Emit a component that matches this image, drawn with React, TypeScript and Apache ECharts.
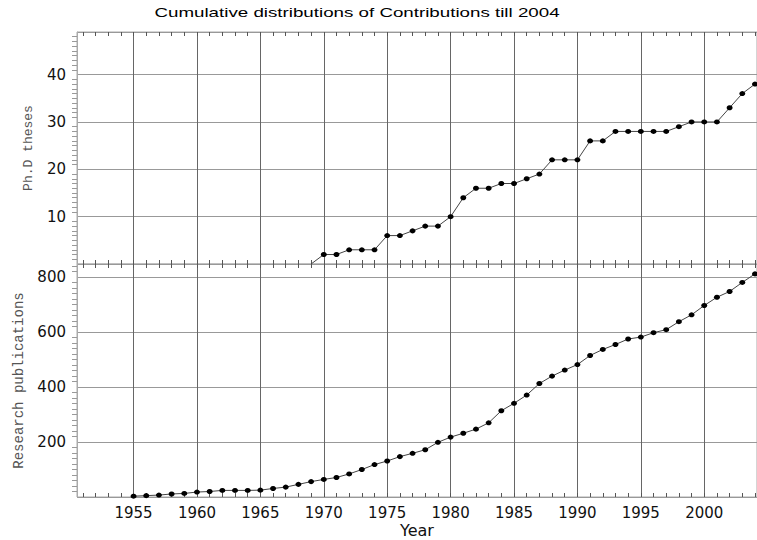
import React, { useEffect, useRef } from "react";
import * as echarts from "echarts";

// ---- Data ----
const thesisYears = [1969, 1970, 1971, 1972, 1973, 1974, 1975, 1976, 1977, 1978, 1979, 1980, 1981, 1982, 1983, 1984, 1985, 1986, 1987, 1988, 1989, 1990, 1991, 1992, 1993, 1994, 1995, 1996, 1997, 1998, 1999, 2000, 2001, 2002, 2003, 2004];
const thesisValues = [0, 2, 2, 3, 3, 3, 6, 6, 7, 8, 8, 10, 14, 16, 16, 17, 17, 18, 19, 22, 22, 22, 26, 26, 28, 28, 28, 28, 28, 29, 30, 30, 30, 33, 36, 38];

const pubYears = [1955, 1956, 1957, 1958, 1959, 1960, 1961, 1962, 1963, 1964, 1965, 1966, 1967, 1968, 1969, 1970, 1971, 1972, 1973, 1974, 1975, 1976, 1977, 1978, 1979, 1980, 1981, 1982, 1983, 1984, 1985, 1986, 1987, 1988, 1989, 1990, 1991, 1992, 1993, 1994, 1995, 1996, 1997, 1998, 1999, 2000, 2001, 2002, 2003, 2004];
const pubValues = [3, 5, 7, 11, 13, 18, 20, 24, 24, 24, 25, 31, 36, 46, 56, 64, 71, 84, 100, 118, 131, 147, 159, 172, 199, 218, 232, 247, 270, 314, 341, 371, 413, 440, 462, 482, 515, 537, 555, 575, 582, 598, 609, 638, 663, 697, 727, 748, 781, 812];

const yearTicks = [1951, 1952, 1953, 1954, 1955, 1956, 1957, 1958, 1959, 1960, 1961, 1962, 1963, 1964, 1965, 1966, 1967, 1968, 1969, 1970, 1971, 1972, 1973, 1974, 1975, 1976, 1977, 1978, 1979, 1980, 1981, 1982, 1983, 1984, 1985, 1986, 1987, 1988, 1989, 1990, 1991, 1992, 1993, 1994, 1995, 1996, 1997, 1998, 1999, 2000, 2001, 2002, 2003, 2004];
const yearLabels = [1955, 1960, 1965, 1970, 1975, 1980, 1985, 1990, 1995, 2000];

const titleText = "Cumulative distributions of Contributions till 2004";
const xName = "Year";
const topName = "Ph.D theses";
const bottomName = "Research publications";

const X_MIN = 1950.54;
const X_MAX = 2004.16;

export default function App() {
  const ref = useRef<HTMLDivElement>(null);

  useEffect(() => {
    if (!ref.current) return;
    const chart = echarts.init(ref.current, undefined, { renderer: "svg" });

    const tickColor = "#555";
    const frameColor = "#aaa";
    const labelFont = { fontFamily: "DejaVu Sans", fontSize: 15, color: "#111" };

    const tickAxis = (grid: number, pos: "top" | "bottom", labels: boolean) => ({
      type: "value",
      gridIndex: grid,
      position: pos,
      min: X_MIN,
      max: X_MAX,
      axisLine: { show: false },
      axisTick: {
        show: true,
        inside: true,
        length: 4,
        customValues: yearTicks,
        lineStyle: { color: tickColor, width: 1 },
      },
      axisLabel: labels
        ? { show: true, customValues: yearLabels, margin: 8, ...labelFont, formatter: (v: number) => String(Math.round(v)) }
        : { show: false },
      splitLine: { show: false },
      ...(labels
        ? {
            name: xName,
            nameLocation: "middle",
            nameGap: 25,
            nameTextStyle: { fontFamily: "DejaVu Sans", fontSize: 16, color: "#111" },
          }
        : {}),
    });

    const gridAxis = (grid: number) => ({
      type: "value",
      gridIndex: grid,
      position: "bottom",
      min: X_MIN,
      max: X_MAX,
      axisLine: { show: false },
      axisTick: { show: false, customValues: yearLabels },
      axisLabel: { show: false },
      splitLine: { show: true, lineStyle: { color: "#666", width: 1 } },
    });

    const yAxis = (grid: number, max: number, interval: number, name: string, gap: number, nameSize: number) => ({
      type: "value",
      gridIndex: grid,
      min: 0,
      max,
      interval,
      axisLine: { show: true, lineStyle: { color: frameColor } },
      axisTick: { show: false },
      minorTick: { show: true, splitNumber: 10, length: 5, lineStyle: { color: "#999" } },
      axisLabel: {
        margin: 11,
        showMaxLabel: false,
        showMinLabel: false,
        ...labelFont,
        formatter: (v: number) => (v !== 0 && v % interval === 0 ? String(v) : ""),
      },
      splitLine: { show: true, lineStyle: { color: "#999", width: 1 } },
      name,
      nameLocation: "middle",
      nameGap: gap,
      nameTextStyle: { fontFamily: "Liberation Mono", fontSize: nameSize, color: "#555" },
    });

    const thesisData = thesisYears.map((y, i) =>
      thesisValues[i] === 0 ? { value: [y, thesisValues[i]], symbol: "none" } : { value: [y, thesisValues[i]] }
    );
    const pubData = pubYears.map((y, i) => [y, pubValues[i]]);

    const lineSeries = (data: any[], xi: number, yi: number) => ({
      type: "line",
      xAxisIndex: xi,
      yAxisIndex: yi,
      data,
      symbol: "circle",
      symbolSize: [6, 5],
      clip: true,
      itemStyle: { color: "#000" },
      lineStyle: { color: "#444", width: 1 },
      emphasis: { disabled: true },
    });

    chart.setOption({
      animation: false,
      backgroundColor: "#fff",
      graphic: [
        {
          type: "text",
          x: 357,
          y: 13,
          scaleX: 1.5,
          style: {
            text: titleText,
            font: '12.5px "Liberation Sans"',
            textAlign: "center",
            textVerticalAlign: "middle",
            fill: "#000",
          },
        },
      ],
      grid: [
        { left: 77, top: 32, width: 684, height: 232, show: true, borderColor: frameColor, borderWidth: 1, containLabel: false },
        { left: 77, top: 264, width: 684, height: 233, show: true, borderColor: frameColor, borderWidth: 1, containLabel: false },
      ],
      xAxis: [
        tickAxis(0, "bottom", false),
        tickAxis(0, "top", false),
        gridAxis(0),
        tickAxis(1, "bottom", true),
        tickAxis(1, "top", false),
        gridAxis(1),
      ],
      yAxis: [yAxis(0, 49, 10, topName, 42, 13), yAxis(1, 848, 200, bottomName, 50, 14)],
      series: [lineSeries(thesisData, 0, 0), lineSeries(pubData, 3, 1)],
    });

    return () => chart.dispose();
  }, []);

  return (
    <div
      ref={ref}
      style={{ position: "fixed", left: 0, top: 0, width: 757, height: 540, background: "#fff" }}
    />
  );
}
